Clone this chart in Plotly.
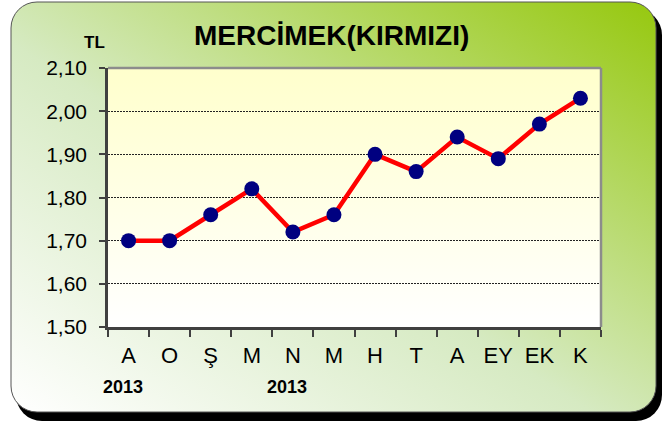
import base64
import plotly.graph_objects as go

# ---- data ----
months = ["A", "O", "Ş", "M", "N", "M", "H", "T", "A", "EY", "EK", "K"]
prices = [1.70, 1.70, 1.76, 1.82, 1.72, 1.76, 1.90, 1.86, 1.94, 1.89, 1.97, 2.03]
year_labels = ["2013", "2013"]
year_positions = [0, 4]
title_text = "MERCİMEK(KIRMIZI)"
unit_text = "TL"

W, H = 667, 423
ML, MR, MT, MB = 108, 66, 68, 96
PW, PH = W - ML - MR, H - MT - MB

bg_svg = f"""<svg xmlns='http://www.w3.org/2000/svg' width='{W}' height='{H}' viewBox='0 0 {W} {H}'>
<defs>
<linearGradient id='g' x1='0' y1='1' x2='1' y2='0'>
<stop offset='0' stop-color='#FFFFFF'/>
<stop offset='0.45' stop-color='#D6EAC2'/>
<stop offset='1' stop-color='#96C80E'/>
</linearGradient>
</defs>
<rect x='16' y='9' width='646' height='412' rx='26' ry='26' fill='#000000'/>
<rect x='11' y='2' width='645' height='410' rx='26' ry='26' fill='url(#g)' stroke='#555555' stroke-width='1'/>
</svg>"""

plot_svg = """<svg xmlns='http://www.w3.org/2000/svg' width='100' height='100' viewBox='0 0 100 100' preserveAspectRatio='none'>
<defs>
<linearGradient id='p' x1='0' y1='0' x2='0' y2='1'>
<stop offset='0' stop-color='#FFFFCC'/>
<stop offset='1' stop-color='#FFFFFF'/>
</linearGradient>
</defs>
<rect x='0' y='0' width='100' height='100' fill='url(#p)'/>
</svg>"""


def uri(s):
    return "data:image/svg+xml;base64," + base64.b64encode(s.encode("utf-8")).decode("ascii")


fig = go.Figure()
fig.add_trace(go.Scatter(
    x=list(range(len(months))), y=prices, mode="lines+markers",
    line=dict(color="#FF0000", width=4.5),
    marker=dict(color="#000080", size=15, line=dict(width=0)),
    hoverinfo="skip", showlegend=False,
))

fig.update_layout(
    width=W, height=H,
    margin=dict(l=ML, r=MR, t=MT, b=MB, pad=0),
    paper_bgcolor="rgba(0,0,0,0)",
    plot_bgcolor="rgba(0,0,0,0)",
    separators=", ",
    font=dict(family="Liberation Sans, Arial, sans-serif", color="#000000"),
    images=[
        dict(source=uri(bg_svg), xref="paper", yref="paper",
             x=-ML / PW, y=1 + MT / PH, sizex=W / PW, sizey=H / PH,
             xanchor="left", yanchor="top", sizing="stretch", layer="below"),
        dict(source=uri(plot_svg), xref="paper", yref="paper",
             x=0, y=1, sizex=1, sizey=1,
             xanchor="left", yanchor="top", sizing="stretch", layer="below"),
    ],
    shapes=[
        dict(type="line", xref="paper", yref="paper", x0=0, x1=1, y0=1, y1=1,
             line=dict(color="#8C8C8C", width=2.5)),
        dict(type="line", xref="paper", yref="paper", x0=1, x1=1, y0=0, y1=1,
             line=dict(color="#8C8C8C", width=2.5)),
    ],
    xaxis=dict(
        range=[-0.5, len(months) - 0.5],
        tickmode="array", tickvals=list(range(len(months))), ticktext=months,
        ticks="", showgrid=False, zeroline=False,
        showline=True, linecolor="#404040", linewidth=2.5,
        tickfont=dict(size=22),
        ticklabelstandoff=7,
        minor=dict(tickmode="linear", tick0=-0.5, dtick=1, ticks="outside",
                   ticklen=7, tickwidth=1.5, tickcolor="#404040", showgrid=False),
        fixedrange=True,
    ),
    yaxis=dict(
        range=[1.5, 2.1], dtick=0.1, tick0=1.5, tickformat=".2f",
        ticks="outside", ticklen=6, tickwidth=1.5, tickcolor="#404040",
        showline=True, linecolor="#404040", linewidth=2.5,
        showgrid=True, gridcolor="#222222", gridwidth=1, griddash="2px,1px",
        zeroline=False, tickfont=dict(size=21), ticklabelstandoff=8,
        fixedrange=True,
    ),
    annotations=[
        dict(text=f"<b>{title_text}</b>", xref="paper", yref="paper",
             x=(331 - ML) / PW, y=1 + (MT - 35) / PH, xanchor="center", yanchor="middle",
             showarrow=False, font=dict(size=28, color="#000000")),
        dict(text=f"<b>{unit_text}</b>", xref="paper", yref="paper",
             x=(94 - ML) / PW, y=1 + (MT - 43) / PH, xanchor="center", yanchor="middle",
             showarrow=False, font=dict(size=17, color="#000000")),
    ] + [
        dict(text=f"<b>{t}</b>", xref="x", yref="paper", x=p, xshift=-6,
             y=-(387 - MT - PH) / PH, xanchor="center", yanchor="middle",
             showarrow=False, font=dict(size=18, color="#000000"))
        for t, p in zip(year_labels, year_positions)
    ],
)

fig.write_html("out.html", config={"displayModeBar": False},
               post_script="document.body.style.margin='0';document.body.style.overflow='hidden';")
